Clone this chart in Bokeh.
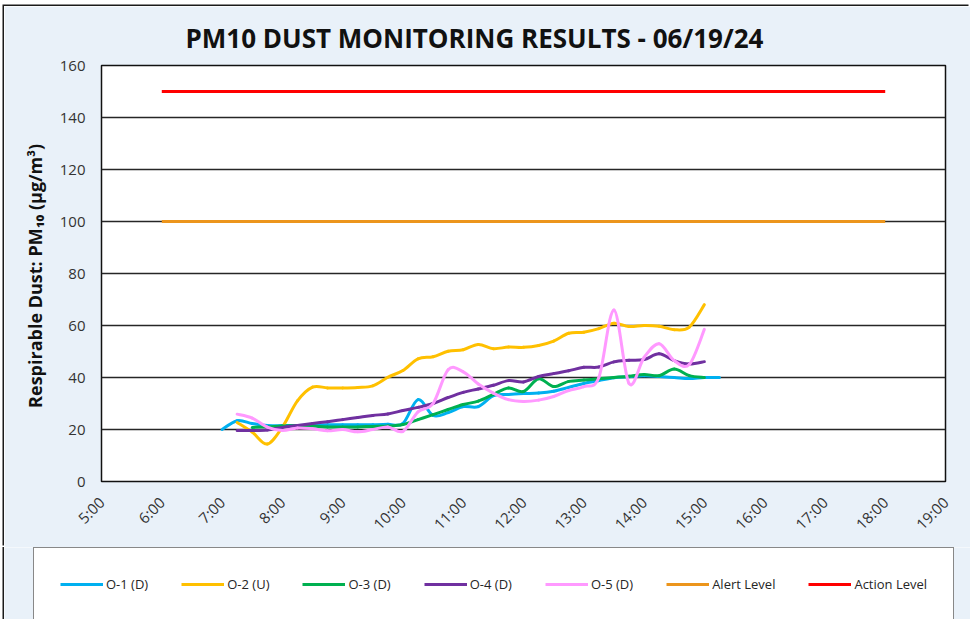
import numpy as np
from bokeh.plotting import figure
from bokeh.models import FixedTicker, Legend, LegendItem, Range1d
from bokeh.embed import file_html
from bokeh.resources import INLINE

# ---------------- data ----------------
TITLE = "PM10 DUST MONITORING RESULTS - 06/19/24"
Y_LABEL = "Respirable Dust: PM\u2081\u2080  (\u00b5g/m\u00b3)"
X_TICKS = list(range(5, 20))
X_TICK_LABELS = [f"{h}:00" for h in X_TICKS]
Y_TICKS = [0, 20, 40, 60, 80, 100, 120, 140, 160]

o1_times = ["07:00", "07:15", "07:30", "07:45", "08:00", "08:15", "08:30", "08:45",
            "09:00", "09:15", "09:30", "09:45", "10:00", "10:15", "10:30", "10:45",
            "11:00", "11:15", "11:30", "11:45", "12:00", "12:15", "12:30", "12:45",
            "13:00", "13:15", "13:30", "13:45", "14:00", "14:15", "14:30", "14:45",
            "15:00", "15:15"]
o1_values = [20.0, 23.4, 22.3, 21.5, 21.5, 21.5, 21.6, 21.8,
             21.8, 21.8, 21.8, 22.0, 22.3, 31.5, 25.4, 26.5,
             28.8, 28.8, 33.0, 33.5, 33.8, 34.0, 34.7, 36.2,
             37.7, 38.8, 39.9, 40.3, 40.7, 40.4, 40.0, 39.6,
             40.0, 40.0]

o2_times = ["07:15", "07:30", "07:45", "08:00", "08:15", "08:30", "08:45",
            "09:00", "09:15", "09:30", "09:45", "10:00", "10:15", "10:30", "10:45",
            "11:00", "11:15", "11:30", "11:45", "12:00", "12:15", "12:30", "12:45",
            "13:00", "13:15", "13:30", "13:45", "14:00", "14:15", "14:30", "14:45",
            "15:00"]
o2_values = [22.7, 19.0, 14.4, 20.9, 31.0, 36.3, 36.0,
             36.0, 36.2, 36.8, 40.1, 42.7, 47.2, 48.0, 50.1,
             50.7, 52.7, 51.1, 51.7, 51.6, 52.3, 54.0, 57.0,
             57.4, 58.8, 60.9, 59.6, 60.0, 59.7, 58.4, 59.4,
             68.0]

o3_times = ["07:30", "07:45", "08:00", "08:15", "08:30", "08:45",
            "09:00", "09:15", "09:30", "09:45", "10:00", "10:15", "10:30", "10:45",
            "11:00", "11:15", "11:30", "11:45", "12:00", "12:15", "12:30", "12:45",
            "13:00", "13:15", "13:30", "13:45", "14:00", "14:15", "14:30", "14:45",
            "15:00"]
o3_values = [20.8, 21.0, 21.3, 21.5, 21.3, 21.0,
             21.0, 21.0, 21.2, 21.3, 21.9, 23.8, 25.7, 27.7,
             29.6, 30.9, 33.5, 36.0, 34.6, 39.5, 36.5, 38.5,
             39.0, 39.5, 40.0, 40.5, 41.2, 40.7, 43.3, 40.7,
             40.0]

o4_times = ["07:15", "07:30", "07:45", "08:00", "08:15", "08:30", "08:45",
            "09:00", "09:15", "09:30", "09:45", "10:00", "10:15", "10:30", "10:45",
            "11:00", "11:15", "11:30", "11:45", "12:00", "12:15", "12:30", "12:45",
            "13:00", "13:15", "13:30", "13:45", "14:00", "14:15", "14:30", "14:45",
            "15:00"]
o4_values = [19.6, 19.6, 19.8, 20.8, 21.5, 22.3, 23.0,
             23.8, 24.6, 25.4, 26.0, 27.3, 28.5, 30.0, 32.3,
             34.3, 35.6, 37.0, 38.8, 38.3, 40.4, 41.5, 42.6,
             43.9, 44.0, 46.0, 46.6, 46.9, 49.1, 46.5, 45.2,
             46.1]

o5_times = ["07:15", "07:30", "07:45", "08:00", "08:15", "08:30", "08:45",
            "09:00", "09:15", "09:30", "09:45", "10:00", "10:15", "10:30", "10:45",
            "11:00", "11:15", "11:30", "11:45", "12:00", "12:15", "12:30", "12:45",
            "13:00", "13:15", "13:30", "13:45", "14:00", "14:15", "14:30", "14:45",
            "15:00"]
o5_values = [25.9, 24.4, 20.9, 19.6, 20.6, 20.3, 19.5,
             20.0, 19.1, 20.0, 21.0, 19.3, 26.8, 30.0, 43.0,
             42.2, 37.5, 34.0, 31.5, 30.8, 31.3, 32.7, 35.0,
             36.5, 40.0, 66.0, 37.7, 47.7, 53.0, 46.5, 45.0,
             58.5]

alert_times = ["06:00", "18:00"]
alert_values = [100, 100]
action_times = ["06:00", "18:00"]
action_values = [150, 150]

SERIES = [
    ("O-1 (D)", o1_times, o1_values, "#00B0F0"),
    ("O-2 (U)", o2_times, o2_values, "#FFC000"),
    ("O-3 (D)", o3_times, o3_values, "#00B050"),
    ("O-4 (D)", o4_times, o4_values, "#7030A0"),
    ("O-5 (D)", o5_times, o5_values, "#FF99FF"),
]
LEVELS = [
    ("Alert Level", alert_times, alert_values, "#EC951C"),
    ("Action Level", action_times, action_values, "#FF0000"),
]


def to_hours(times):
    out = []
    for t in times:
        h, m = t.split(":")
        out.append(int(h) + int(m) / 60.0)
    return np.array(out)


def smooth_segments(xs, ys):
    """Cubic Bezier control points (Catmull-Rom style) through the data points."""
    x = np.asarray(xs, float)
    y = np.asarray(ys, float)
    xp = np.concatenate([[x[0]], x, [x[-1]]])
    yp = np.concatenate([[y[0]], y, [y[-1]]])
    x0, x1 = x[:-1], x[1:]
    y0, y1 = y[:-1], y[1:]
    cx0 = x0 + (x1 - xp[:-3]) / 6.0
    cy0 = y0 + (y1 - yp[:-3]) / 6.0
    cx1 = x1 - (xp[3:] - x0) / 6.0
    cy1 = y1 - (yp[3:] - y0) / 6.0
    return dict(x0=x0, y0=y0, x1=x1, y1=y1, cx0=cx0, cy0=cy0, cx1=cx1, cy1=cy1)


FONT = "Open Sans"
BG = "#E9F1F9"

# ---------------- main chart ----------------
p = figure(width=966, height=541,
           x_range=Range1d(5, 19), y_range=Range1d(0, 160),
           output_backend="svg", toolbar_location=None,
           min_border_left=97, min_border_right=25,
           min_border_top=59, min_border_bottom=66)
p.styles = {"margin": "6px 0px 0px 4px",
            "box-shadow": "-1.5px -1.5px 0px 0px #1a1a1a"}

p.border_fill_color = BG
p.background_fill_color = "white"
p.outline_line_color = "#111111"
p.outline_line_width = 1.5

p.title.text = TITLE
p.title.align = "left"
p.title.offset = 84
p.title.standoff = 20
p.title.text_font = FONT
p.title.text_font_style = "bold"
p.title.text_font_size = "26px"
p.title.text_color = "#111111"

p.xgrid.visible = False
p.ygrid.grid_line_color = "#262626"
p.ygrid.grid_line_width = 1.5

p.yaxis.ticker = FixedTicker(ticks=Y_TICKS)
p.xaxis.ticker = FixedTicker(ticks=X_TICKS)
p.xaxis.major_label_overrides = {h: lab for h, lab in zip(X_TICKS, X_TICK_LABELS)}
p.xaxis.major_label_orientation = np.pi / 4

for ax in (p.xaxis, p.yaxis):
    ax.axis_line_color = None
    ax.major_tick_line_color = None
    ax.minor_tick_line_color = None
    ax.major_label_text_font = FONT
    ax.major_label_text_font_size = "15px"
    ax.major_label_text_color = "#333333"

p.yaxis.major_label_standoff = 10
p.xaxis.major_label_standoff = 12
p.yaxis.axis_label = Y_LABEL
p.yaxis.axis_label_text_font = FONT
p.yaxis.axis_label_text_font_style = "bold"
p.yaxis.axis_label_text_font_size = "18px"
p.yaxis.axis_label_text_color = "#111111"
p.yaxis.axis_label_standoff = 10

for name, times, vals, color in SERIES:
    seg = smooth_segments(to_hours(times), vals)
    p.bezier(x0=seg["x0"], y0=seg["y0"], x1=seg["x1"], y1=seg["y1"],
             cx0=seg["cx0"], cy0=seg["cy0"], cx1=seg["cx1"], cy1=seg["cy1"],
             line_color=color, line_width=3, line_cap="round")

for name, times, vals, color in LEVELS:
    p.line(to_hours(times), vals, line_color=color, line_width=3)

# ---------------- legend strip (separate root below the chart) ----------------
lf = figure(width=966, height=72, x_range=Range1d(5, 19), y_range=Range1d(-60, -40),
            output_backend="svg", toolbar_location=None,
            x_axis_location=None, y_axis_location=None,
            min_border=0, min_border_left=0, min_border_right=0,
            min_border_top=0, min_border_bottom=0)
lf.styles = {"margin": "0px 0px 0px 4px",
             "box-shadow": "-1.5px 0px 0px 0px #1a1a1a"}
lf.title.visible = False
lf.border_fill_color = BG
lf.background_fill_color = BG
lf.outline_line_color = None
lf.grid.visible = False

items = []
for name, times, vals, color in SERIES + LEVELS:
    # same data series; they fall outside this strip's range, only the legend swatch shows
    r = lf.line(to_hours(times), vals, line_color=color, line_width=3)
    items.append(LegendItem(label=name, renderers=[r]))

legend = Legend(items=items, orientation="horizontal", location=(29, -2),
                glyph_width=43, glyph_height=20, label_standoff=3, spacing=33,
                padding=26, margin=0,
                border_line_color="#111111", border_line_width=1.5,
                background_fill_color="white", background_fill_alpha=1.0,
                label_text_font=FONT, label_text_font_size="13px",
                label_text_color="#262626")
lf.add_layout(legend)

open("out.html", "w").write(file_html([p, lf], INLINE))
